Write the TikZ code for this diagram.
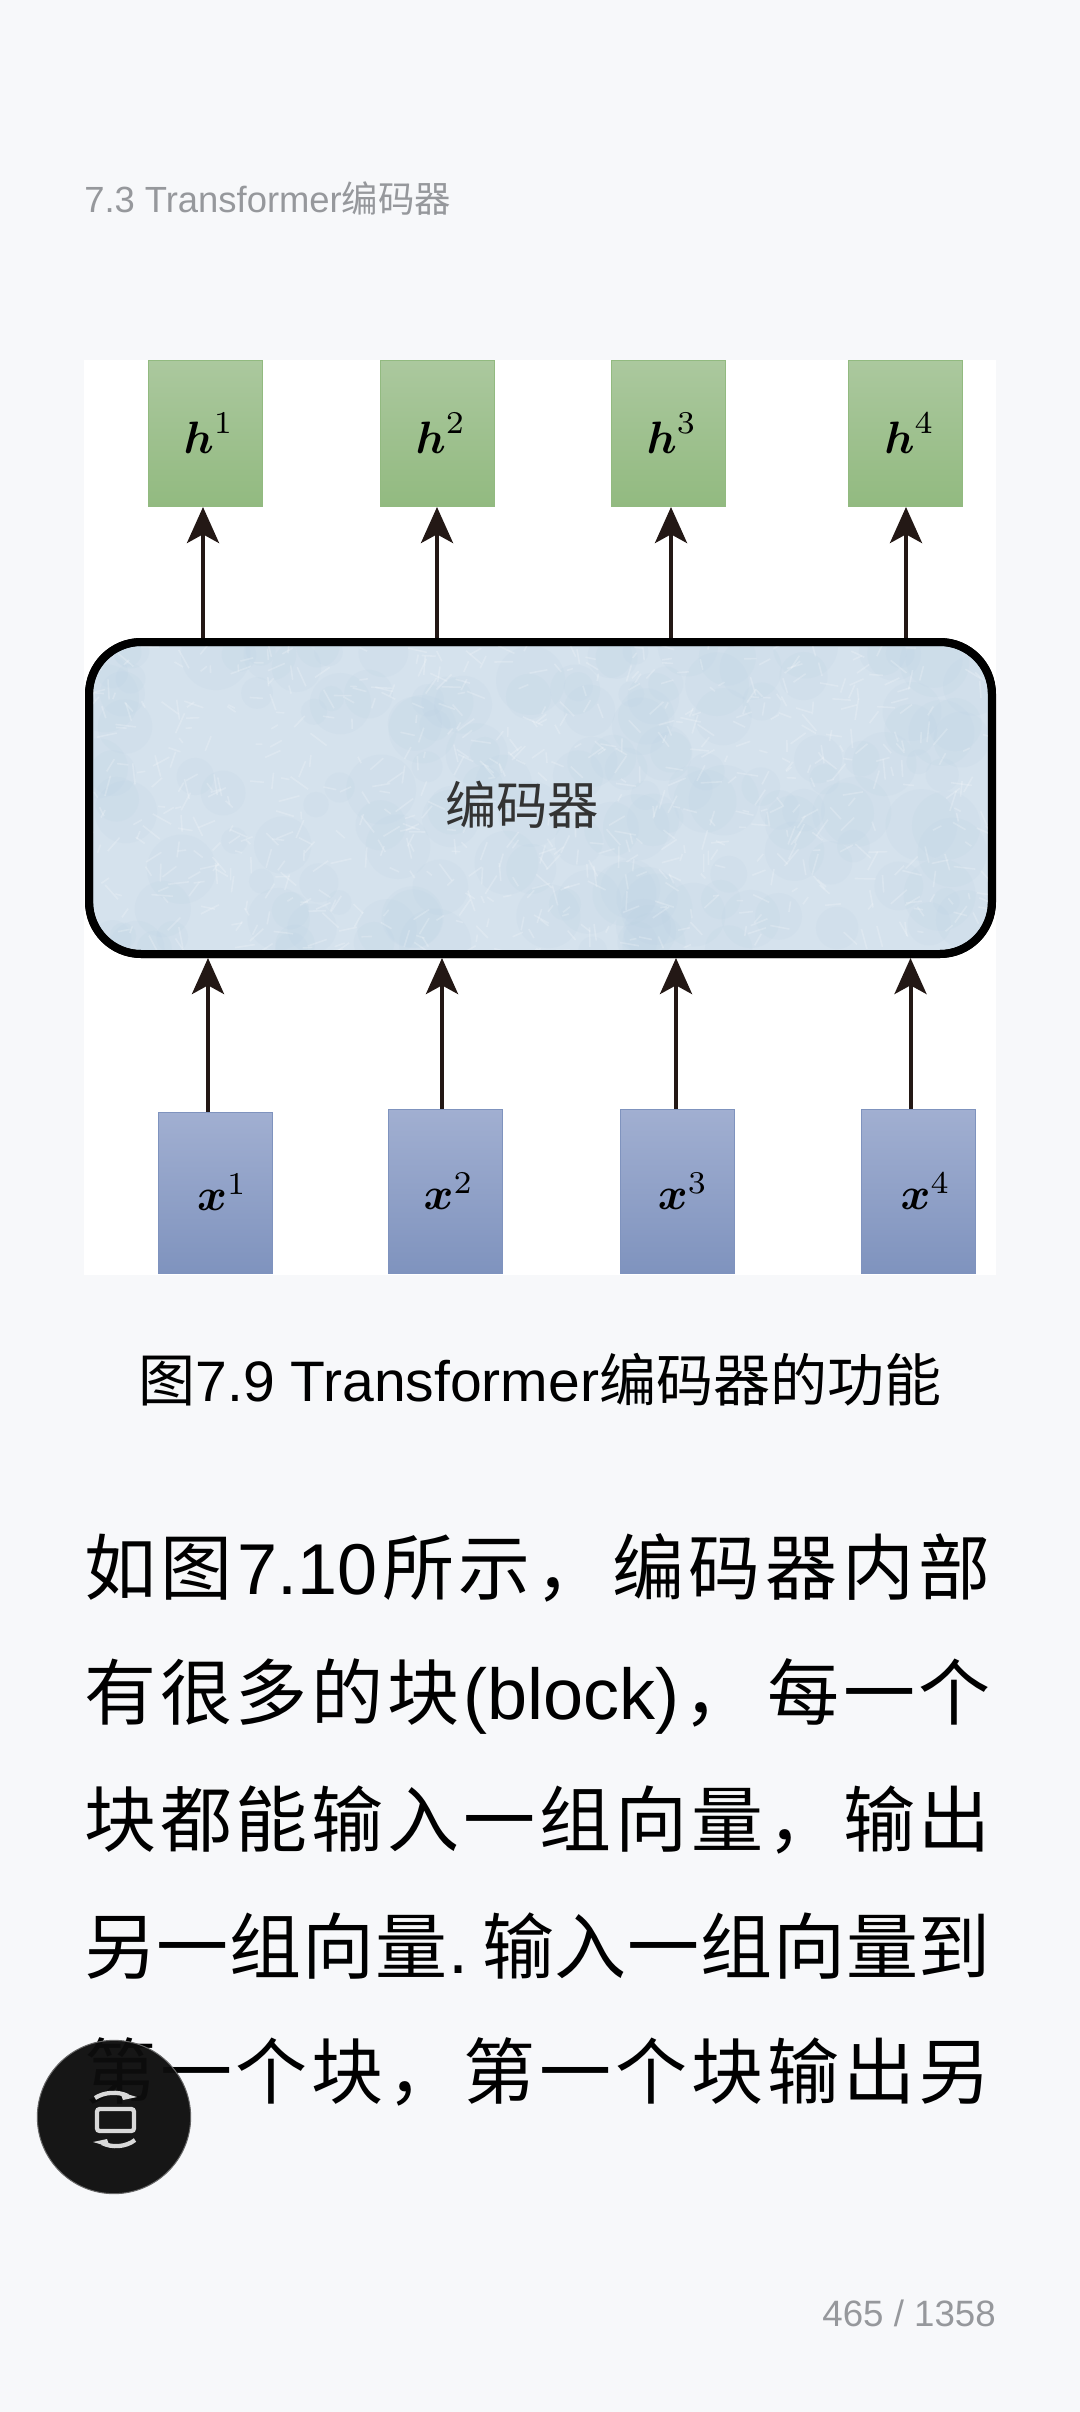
\documentclass[tikz,border=0pt]{standalone}
\usepackage{amsmath}
\usepackage{graphicx}
\usepackage{fontspec}
\usetikzlibrary{arrows.meta}
\setmainfont{Noto Sans CJK SC}
\newfontfamily\latinfont{Liberation Sans}
\definecolor{pagebg}{HTML}{F7F8FA}
\definecolor{graytext}{HTML}{96989C}
\definecolor{arrowink}{HTML}{231815}
\definecolor{greentop}{HTML}{ABC89E}
\definecolor{greenbot}{HTML}{92BA80}
\definecolor{bluetop}{HTML}{A1AFD1}
\definecolor{bluebot}{HTML}{7F93BE}
\definecolor{encfill}{HTML}{D5E2ED}
\definecolor{encdark}{HTML}{B7CFE2}
\tikzset{
  hbox/.style={rectangle, inner sep=0pt, top color=greentop, bottom color=greenbot, draw=greenbot, line width=0.75pt, minimum width=85.5pt, minimum height=109.5pt},
  xbox/.style={rectangle, inner sep=0pt, top color=bluetop, bottom color=bluebot, draw=bluebot, line width=0.75pt, minimum width=85.5pt},
  flowarrow/.style={draw=arrowink, line width=3pt, -{Stealth[length=27pt, width=24pt, inset=6.5pt]}},
  bodyline/.style={anchor=west, inner sep=0pt, font=\fontsize{54}{54}\selectfont},
  iconline/.style={draw=black!15, line width=3.2pt}
}
\begin{document}
\begin{tikzpicture}[x=0.75pt, y=-0.75pt]
    % page and white figure panel, coordinates in screen pixels
    \fill[pagebg] (0,0) rectangle (1080,2412);
    \useasboundingbox (0,0) rectangle (1080,2412);
    \fill[white] (84,360) rectangle (996,1275);
    \node[anchor=west, inner sep=0pt, text=graytext, font=\fontsize{27.3}{27.3}\selectfont] (header) at (84,199) {{\latinfont 7.3 Transformer}编码器};
    % ---------------- encoder
    \node[rectangle, rounded corners=39pt, draw=black, line width=6pt, fill=encfill, minimum width=677pt, minimum height=234pt, inner sep=0pt] (encoder) at (540.5,798) {};
    \begin{scope}
      \clip[rounded corners=37pt] (92,645) rectangle (989,951);
      \pgfmathsetseed{73}
      \foreach \n in {1,...,160} {
        \pgfmathsetmacro{\px}{90+rnd*900}
        \pgfmathsetmacro{\py}{645+rnd*306}
        \pgfmathsetmacro{\pr}{12+rnd*24}
        \fill[encdark, opacity=0.12] (\px,\py) circle (\pr);
      }
      \foreach \n in {1,...,700} {
        \pgfmathsetmacro{\px}{90+rnd*900}
        \pgfmathsetmacro{\py}{645+rnd*306}
        \pgfmathsetmacro{\pa}{rnd*360}
        \pgfmathsetmacro{\pl}{6+rnd*16}
        \draw[white, opacity=0.2, line width=1.2pt] (\px,\py) -- ++(\pa:\pl);
      }
    \end{scope}
    \draw[black, line width=6pt, rounded corners=39pt] (89,642) rectangle (992,954);
    \node[inner sep=0pt, text=black!80, font=\fontsize{38.5}{38.5}\selectfont] (enclabel) at (522,805) {编码器};
    % ---------------- outputs
    \foreach \i/\cx/\dx/\lx in {1/205.5/-2.5/5, 2/437/0/6, 3/668.5/2.5/5, 4/905/1/7} {
      \node[hbox] (h\i) at (\cx,433.5) {\hspace{\lx pt}\scalebox{3.4}{$\boldsymbol{h}^{\i}$}};
      \draw[flowarrow] ([xshift=\dx*0.75pt]encoder.north -| h\i.south) -- ([xshift=\dx*0.75pt]h\i.south);
    }
    % ---------------- inputs
    \foreach \i/\cx/\cy/\bh/\dx/\lx in {1/215/1192.5/120.75/-7/11, 2/445.5/1191/123/-3.5/5, 3/677/1191/123/-1/9, 4/918.5/1191/123/-8/11} {
      \node[xbox, minimum height=\bh pt] (x\i) at (\cx,\cy) {\hspace{\lx pt}\scalebox{3.4}{$\boldsymbol{x}^{\i}$}};
      \draw[flowarrow] ([xshift=\dx*0.75pt]x\i.north) -- ([xshift=\dx*0.75pt]encoder.south -| x\i.north);
    }
    % ---------------- caption and body
    \node[inner sep=0pt, font=\fontsize{42.8}{42.8}\selectfont] (caption) at (540,1380) {图{\latinfont 7.9 Transformer}编码器的功能};
    \node[bodyline] (line1) at (84,1568) {\makebox[680pt][s]{如\hfill 图\hfill {\latinfont 7.10}\hfill 所\hfill 示\hfill ，\hfill 编\hfill 码\hfill 器\hfill 内\hfill 部}};
    \node[bodyline] (line2) at (84,1696) {\makebox[680pt][s]{有\hfill 很\hfill 多\hfill 的\hfill 块\hfill {\latinfont (block)}\hfill ，\hfill\hfill\hfill 每\hfill 一\hfill 个}};
    \node[bodyline] (line3) at (84,1820) {\makebox[680pt][s]{块\hfill 都\hfill 能\hfill 输\hfill 入\hfill 一\hfill 组\hfill 向\hfill 量\hfill ，\hfill 输\hfill 出}};
    \node[bodyline] (line4) at (84,1946) {\makebox[680pt][s]{另\hfill 一\hfill 组\hfill 向\hfill 量\hfill {\latinfont .}\hspace{10pt}\hfill 输\hfill 入\hfill 一\hfill 组\hfill 向\hfill 量\hfill 到}};
    \node[bodyline] (line5) at (84,2072) {\makebox[680pt][s]{第\hfill 一\hfill 个\hfill 块\hfill ，\hfill 第\hfill 一\hfill 个\hfill 块\hfill 输\hfill 出\hfill 另}};
    \node[anchor=east, inner sep=0pt, text=graytext, font=\latinfont\fontsize{27.5}{27.5}\selectfont] (pageno) at (996,2313) {465 / 1358};
    % ---------------- floating button
    \node[circle, draw=black!60, line width=0.75pt, fill=black!95, fill opacity=0.96, minimum size=115pt, inner sep=0pt] (button) at (114,2117) {};
    \draw[iconline, rounded corners=2pt] (97,2109) rectangle (134,2131);
    \draw[iconline] (95,2098) .. controls (104,2092) and (118,2091) .. (128,2096);
    \fill[black!15] (120,2092) -- (137,2097) -- (123,2100) -- cycle;
    \draw[iconline] (135,2140) .. controls (126,2147) and (112,2148) .. (102,2143);
    \fill[black!15] (110,2147) -- (93,2142) -- (107,2139) -- cycle;
\end{tikzpicture}
\end{document}
